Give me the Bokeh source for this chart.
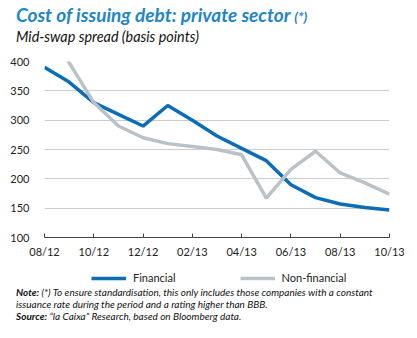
from bokeh.plotting import figure
from bokeh.models import Legend, LegendItem, FixedTicker, Div
from bokeh.layouts import column
from bokeh.embed import file_html
from bokeh.resources import INLINE

months = ["08/12", "09/12", "10/12", "11/12", "12/12", "01/13", "02/13", "03/13",
          "04/13", "05/13", "06/13", "07/13", "08/13", "09/13", "10/13"]
financial = [390, 365, 330, 310, 290, 325, 300, 273, 252, 231, 190, 168, 157, 151, 147]
nonfinancial = [470, 398, 330, 290, 270, 260, 255, 250, 241, 167, 216, 247, 210, 193, 174]
y_ticks = [100, 150, 200, 250, 300, 350, 400]
series_names = ["Financial", "Non-financial"]

title_text = "Cost of issuing debt: private sector"
title_mark = "(*)"
subtitle_text = "Mid-swap spread (basis points)"
note_head = "Note:"
note_body = ("(*) To ensure standardisation, this only includes those companies with a constant<br>"
             "issuance rate during the period and a rating higher than BBB.")
source_head = "Source:"
source_body = "\u201cla Caixa\u201d Research, based on Bloomberg data."

FONT = "Lato"
BLUE = "#0b6db7"
GREY = "#b9c3c7"
TITLE_BLUE = "#1f86c8"

W = 417
TOP_H = 50
FIG_H = 212
LEG_H = 26
NOTE_H = 338 - TOP_H - FIG_H - LEG_H
FL, FR = 44, 389
FRAME_TOP, FRAME_BOTTOM = 61, 237

header = Div(
    text=(f'<div style="position:relative;width:{W}px;height:{TOP_H}px;font-family:{FONT};">'
          f'<div style="position:absolute;left:16px;top:5px;line-height:1;white-space:nowrap;'
          f'font-size:19px;font-weight:bold;font-style:italic;color:{TITLE_BLUE};">'
          f'{title_text} <span style="font-size:14px;font-weight:bold;">{title_mark}</span></div>'
          f'<div style="position:absolute;left:16px;top:30px;line-height:1;white-space:nowrap;'
          f'font-size:14.4px;font-style:italic;color:#111;">{subtitle_text}</div></div>'),
    width=W, height=TOP_H, margin=0)

p = figure(width=W, height=FIG_H, output_backend="svg", toolbar_location=None,
           x_range=(0, len(months) - 1), y_range=(100, 400),
           min_border_left=FL, min_border_right=W - FR,
           min_border_top=FRAME_TOP - TOP_H,
           min_border_bottom=TOP_H + FIG_H - FRAME_BOTTOM)
p.outline_line_color = None

x = list(range(len(months)))
p.line(x, financial, line_color=BLUE, line_width=3.5)
p.line(x, nonfinancial, line_color=GREY, line_width=3.5)

p.xgrid.grid_line_color = None
p.ygrid.grid_line_color = "#cccccc"
p.ygrid.grid_line_width = 1
p.ygrid.ticker = FixedTicker(ticks=y_ticks)

p.yaxis.ticker = FixedTicker(ticks=y_ticks)
p.yaxis.axis_line_color = None
p.yaxis.major_tick_line_color = None
p.yaxis.minor_tick_line_color = None
p.yaxis.major_label_standoff = 9
p.yaxis.major_label_text_font = FONT
p.yaxis.major_label_text_font_size = "11px"
p.yaxis.major_label_text_color = "#222222"

p.xaxis.ticker = FixedTicker(ticks=list(range(0, len(months), 2)))
p.xaxis.major_label_overrides = {i: months[i] for i in range(0, len(months), 2)}
p.xaxis.axis_line_color = "#444444"
p.xaxis.axis_line_width = 1
p.xaxis.major_tick_line_color = "#444444"
p.xaxis.major_tick_in = 4
p.xaxis.major_tick_out = 0
p.xaxis.minor_tick_line_color = None
p.xaxis.major_label_standoff = 7
p.xaxis.major_label_text_font = FONT
p.xaxis.major_label_text_font_size = "11px"
p.xaxis.major_label_text_color = "#222222"

# legend strip: its own small figure so the legend is not clipped by the chart frame.
# Its renderers use the same series, but they lie outside this strip's range.
lf = figure(width=W, height=LEG_H, output_backend="svg", toolbar_location=None,
            x_range=(0, 1), y_range=(0, 1), min_border=0)
lf.axis.visible = False
lf.grid.visible = False
lf.outline_line_color = None
l1 = lf.line(x, financial, line_color=BLUE, line_width=3.5)
l2 = lf.line(x, nonfinancial, line_color=GREY, line_width=3.5)
legend = Legend(items=[LegendItem(label=series_names[0], renderers=[l1]),
                       LegendItem(label=series_names[1], renderers=[l2])],
                location=(47, 4), orientation="horizontal",
                padding=0, margin=0, spacing=64, border_line_color=None,
                background_fill_alpha=0, glyph_width=35, glyph_height=12,
                label_height=12, label_standoff=7,
                label_text_font=FONT, label_text_font_size="11px",
                label_text_color="#222222")
lf.add_layout(legend, "center")

notes = Div(
    text=(f'<div style="width:{W}px;font-family:{FONT};font-size:10px;margin-top:-2px;'
          f'font-style:italic;line-height:12px;color:#111;padding-left:16px;white-space:nowrap;">'
          f'<b>{note_head}</b> {note_body}<br><b>{source_head}</b> {source_body}</div>'),
    width=W, height=NOTE_H, margin=0)

layout = column(header, p, lf, notes, spacing=0)
open("out.html", "w").write(file_html(layout, INLINE))
